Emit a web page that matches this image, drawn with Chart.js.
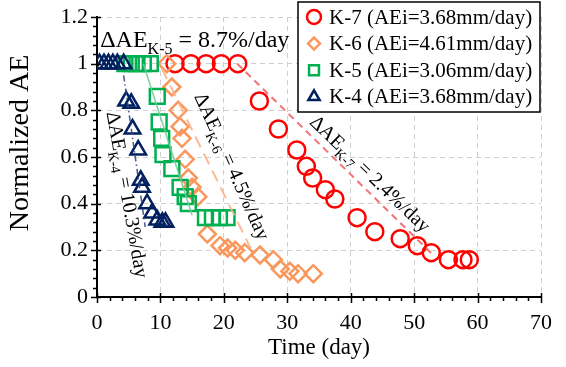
<!DOCTYPE html>
<html>
<head>
<meta charset="utf-8">
<script src="https://cdn.jsdelivr.net/npm/chart.js@4/dist/chart.umd.min.js"></script>
<style>
  html, body { margin: 0; padding: 0; background: #fff; }
</style>
</head>
<body>
<canvas id="myChart" width="566" height="367"></canvas>
<script>
// measured series (time in days, normalized AE)
const k7Time = [12.3, 14.8, 17.2, 19.6, 22.2, 25.6, 28.6, 31.5, 33.0, 34.0, 36.0, 37.5, 41.0, 43.8, 47.8, 50.5, 52.7, 55.4, 57.7, 58.7];
const k7AE   = [1, 1, 1, 1, 1, 0.84, 0.72, 0.63, 0.56, 0.51, 0.46, 0.42, 0.34, 0.28, 0.25, 0.22, 0.19, 0.16, 0.16, 0.16];
const k6Time = [11.0, 11.8, 12.8, 13.1, 13.4, 13.9, 14.4, 15.0, 15.9, 17.4, 19.4, 20.6, 21.8, 23.3, 25.7, 27.8, 28.9, 30.4, 31.7, 34.1];
const k6AE   = [1, 0.90, 0.80, 0.73, 0.68, 0.59, 0.51, 0.47, 0.43, 0.27, 0.22, 0.21, 0.20, 0.19, 0.18, 0.16, 0.12, 0.11, 0.10, 0.10];
const k5Time = [4.4, 5.4, 6.3, 7.3, 8.4, 9.5, 9.8, 10.2, 10.4, 11.8, 13.1, 13.9, 14.4, 17.1, 18.2, 19.3, 20.5];
const k5AE   = [1, 1, 1, 1, 1, 0.86, 0.75, 0.68, 0.61, 0.55, 0.47, 0.43, 0.40, 0.34, 0.34, 0.34, 0.34];
const k4Time = [0.4, 1.1, 1.8, 2.5, 3.2, 4.2, 4.6, 5.4, 5.6, 6.5, 6.9, 7.1, 7.9, 8.7, 9.5, 10.3, 10.8];
const k4AE   = [1, 1, 1, 1, 1, 1, 0.84, 0.83, 0.72, 0.63, 0.50, 0.47, 0.40, 0.36, 0.33, 0.32, 0.32];

// fitted decay lines (start, end)
const k7TrendTime = [22.1, 53.0];
const k7TrendAE   = [1.0, 0.18];
const k6TrendTime = [10.2, 24.2];
const k6TrendAE   = [0.98, 0.21];
const k5TrendTime = [7.3, 15.0];
const k5TrendAE   = [1.0, 0.35];
const k4TrendTime = [4.2, 7.6];
const k4TrendAE   = [0.95, 0.30];

const seriesNames = ['K-7 (AEi=3.68mm/day)', 'K-6 (AEi=4.61mm/day)', 'K-5 (AEi=3.06mm/day)', 'K-4 (AEi=3.68mm/day)'];
const rateNames  = ['K-5', 'K-6', 'K-7', 'K-4'];
const rateValues = ['8.7', '4.5', '2.4', '10.3'];

const xTickValues = [0, 10, 20, 30, 40, 50, 60, 70];
const yTickValues = [0, 0.2, 0.4, 0.6, 0.8, 1, 1.2];

const serif = "'Liberation Serif', 'Times New Roman', serif";
Chart.defaults.font.family = serif;
Chart.defaults.color = '#000';

function pts(xs, ys) {
    return xs.map((x, i) => ({x: x, y: ys[i]}));
}

const red = '#ff0000';
const orange = '#f9975c';
const green = '#00b050';
const navy = '#002060';

// where the rate labels sit (data units), rotation and font size
const ratePlaces = [
    {x: 0.5, y: 1.07, angle: 0, size: 24},
    {x: 15.3, y: 0.86, angle: 66, size: 20},
    {x: 33.4, y: 0.745, angle: 44, size: 20},
    {x: 1.5, y: 0.79, angle: 80, size: 20}
];

const markerStyles = [
    {style: 'circle', color: red, radius: 8.5, legendRadius: 7},
    {style: 'rectRot', color: orange, radius: 8.5, legendRadius: 6},
    {style: 'rect', color: green, radius: 10.5, legendRadius: 7},
    {style: 'triangle', color: navy, radius: 9, legendRadius: 6.5}
];

function scatterSet(label, data, m, order) {
    return {
        label: label,
        data: data,
        showLine: false,
        pointStyle: m.style,
        pointRadius: m.radius,
        pointHoverRadius: m.radius,
        pointBorderColor: m.color,
        pointBackgroundColor: 'rgba(0,0,0,0)',
        pointBorderWidth: 2.5,
        order: order
    };
}

function trendSet(data, color, dash, width) {
    return {
        label: 'trend',
        data: data,
        showLine: true,
        pointRadius: 0,
        borderColor: color,
        borderWidth: width,
        borderDash: dash,
        fill: false,
        order: 0
    };
}

const data = {
    datasets: [
        trendSet(pts(k7TrendTime, k7TrendAE), 'rgba(240,90,90,0.85)', [7, 5], 2),
        trendSet(pts(k6TrendTime, k6TrendAE), 'rgba(249,180,140,0.9)', [12, 7], 2),
        trendSet(pts(k5TrendTime, k5TrendAE), 'rgba(110,205,150,0.9)', [], 1.5),
        trendSet(pts(k4TrendTime, k4TrendAE), 'rgba(50,70,130,0.9)', [6, 3, 1.5, 3], 1.5),
        scatterSet(seriesNames[3], pts(k4Time, k4AE), markerStyles[3], 1),
        scatterSet(seriesNames[2], pts(k5Time, k5AE), markerStyles[2], 2),
        scatterSet(seriesNames[1], pts(k6Time, k6AE), markerStyles[1], 3),
        scatterSet(seriesNames[0], pts(k7Time, k7AE), markerStyles[0], 4)
    ]
};

// minor / major tick marks crossing the axes
const axisTicks = {
    id: 'axisTicks',
    afterDraw(chart) {
        const {ctx, scales: {x, y}, chartArea: a} = chart;
        ctx.save();
        ctx.strokeStyle = '#000';
        ctx.lineWidth = 1.5;
        ctx.beginPath();
        for (let k = 0; k <= 35; k++) {
            const px = Math.round(x.getPixelForValue(k * 2)) + 0.5;
            const major = k % 5 === 0;
            ctx.moveTo(px, a.bottom - (major ? 4 : 0));
            ctx.lineTo(px, a.bottom + (major ? 6 : 4));
        }
        for (let k = 0; k <= 30; k++) {
            const py = Math.round(y.getPixelForValue(k * 0.04)) + 0.5;
            const major = k % 5 === 0;
            ctx.moveTo(a.left - (major ? 6 : 4), py);
            ctx.lineTo(a.left + (major ? 4 : 0), py);
        }
        ctx.stroke();
        ctx.restore();
    }
};

// ΔAE rate labels with subscripts
const rateLabels = {
    id: 'rateLabels',
    afterDatasetsDraw(chart) {
        const {ctx, scales: {x, y}} = chart;
        rateNames.forEach((name, i) => {
            const p = ratePlaces[i];
            const main = p.size + 'px ' + serif;
            const small = Math.round(p.size * 0.68) + 'px ' + serif;
            ctx.save();
            ctx.translate(x.getPixelForValue(p.x), y.getPixelForValue(p.y));
            ctx.rotate(p.angle * Math.PI / 180);
            ctx.fillStyle = '#000';
            ctx.textBaseline = 'alphabetic';
            ctx.textAlign = 'left';
            ctx.font = main;
            ctx.fillText('\u0394AE', 0, 0);
            let w = ctx.measureText('\u0394AE').width;
            ctx.font = small;
            ctx.fillText(name, w, p.size * 0.27);
            w += ctx.measureText(name).width;
            ctx.font = main;
            ctx.fillText(' = ' + rateValues[i] + '%/day', w, 0);
            ctx.restore();
        });
    }
};

// boxed legend in the top right corner
const boxLegend = {
    id: 'boxLegend',
    afterDraw(chart) {
        const ctx = chart.ctx;
        const left = 298, top = 2, width = 242, height = 110;
        ctx.save();
        ctx.fillStyle = '#fff';
        ctx.fillRect(left, top, width, height);
        ctx.strokeStyle = '#000';
        ctx.lineWidth = 1.5;
        ctx.strokeRect(left, top, width, height);
        ctx.font = '21px ' + serif;
        ctx.textBaseline = 'middle';
        ctx.textAlign = 'left';
        seriesNames.forEach((name, i) => {
            const m = markerStyles[i];
            const cy = top + 15 + i * 26.6;
            ctx.strokeStyle = m.color;
            ctx.fillStyle = 'rgba(0,0,0,0)';
            ctx.lineWidth = 2.5;
            Chart.helpers.drawPoint(ctx, {pointStyle: m.style, radius: m.legendRadius, rotation: 0, borderWidth: 2.5}, left + 16, cy);
            ctx.fillStyle = '#000';
            ctx.fillText(name, left + 31, cy + 1);
        });
        ctx.restore();
    }
};

const config = {
    type: 'scatter',
    data: data,
    options: {
        responsive: false,
        devicePixelRatio: 1,
        animation: false,
        layout: { padding: { top: 17, right: 25, left: 0, bottom: 0 } },
        plugins: {
            legend: { display: false },
            tooltip: { enabled: false }
        },
        scales: {
            x: {
                type: 'linear',
                min: 0,
                max: 70,
                afterBuildTicks: (scale) => { scale.ticks = xTickValues.map(v => ({value: v})); },
                afterFit: (scale) => { scale.height = 70; scale.paddingLeft = 0; scale.paddingRight = 0; },
                grid: { color: '#cfcfcf', lineWidth: 1, drawTicks: false },
                border: { color: '#000', width: 2, dash: [5, 4] },
                ticks: {
                    color: '#000',
                    padding: 13,
                    font: { family: serif, size: 22 },
                    maxRotation: 0
                },
                title: {
                    display: true,
                    text: 'Time (day)',
                    color: '#000',
                    font: { family: serif, size: 23 },
                    padding: { top: 0, bottom: 5 }
                }
            },
            y: {
                type: 'linear',
                min: 0,
                max: 1.2,
                afterBuildTicks: (scale) => { scale.ticks = yTickValues.map(v => ({value: v})); },
                afterFit: (scale) => { scale.width = 97; scale.paddingTop = 0; scale.paddingBottom = 0; },
                grid: { color: '#cfcfcf', lineWidth: 1, drawTicks: false },
                border: { color: '#000', width: 2, dash: [5, 4] },
                ticks: {
                    color: '#000',
                    padding: 9,
                    font: { family: serif, size: 22 },
                    callback: (v) => String(Number(v.toFixed(1)))
                },
                title: {
                    display: true,
                    text: '\u00a0\u00a0\u00a0\u00a0Normalized AE',
                    color: '#000',
                    font: { family: serif, size: 28 },
                    padding: { top: 4, bottom: 0 }
                }
            }
        }
    },
    plugins: [axisTicks, rateLabels, boxLegend]
};

let myChart = new Chart(document.getElementById('myChart'), config);
</script>
</body>
</html>
